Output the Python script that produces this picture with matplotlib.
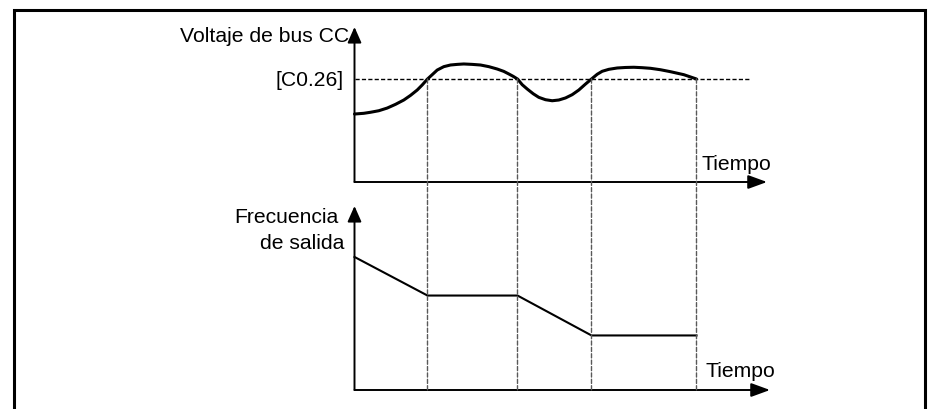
import matplotlib
matplotlib.use('Agg')
import matplotlib.pyplot as plt
from matplotlib.patches import Rectangle, ConnectionPatch

plt.rcParams['font.family'] = ['Liberation Sans', 'DejaVu Sans']

# data (time in arbitrary units, values normalised to the threshold)
t_volt = [0.0, 0.93, 1.6, 2.43, 3.27, 4.1, 4.93, 5.6, 6.27, 6.77, 7.3, 7.77, 8.27, 8.93,
          9.6, 10.27, 10.93, 11.77, 12.6, 13.43, 14.27, 14.93, 15.43, 15.87, 16.3,
          16.77, 17.27, 17.87, 18.43, 19.1, 19.77, 20.43, 21.1, 21.77, 22.43, 23.1, 23.7,
          24.27, 24.77, 25.43, 26.27, 27.1, 27.93, 28.77, 29.6, 30.6, 31.6, 32.93, 34.2]
v_bus = [0.660, 0.667, 0.677, 0.692, 0.718, 0.754, 0.796, 0.841, 0.893, 0.942, 1.0,
         1.042, 1.087, 1.120, 1.136, 1.142, 1.146, 1.142, 1.136, 1.120, 1.097, 1.074,
         1.049, 1.026, 1.0,
         0.945, 0.903, 0.857, 0.822, 0.799, 0.789, 0.796, 0.816, 0.848, 0.893, 0.951, 1.0,
         1.046, 1.075, 1.094, 1.107, 1.112, 1.114, 1.110, 1.104, 1.090, 1.071, 1.042, 1.0]
threshold = 1.0
threshold_end = 39.6
t_freq = [0.0, 7.3, 16.3, 23.7, 34.2]
f_out = [1.0, 0.71, 0.71, 0.41, 0.41]
t_marks = [7.3, 16.3, 23.7, 34.2]

label_volt = 'Voltaje de bus CC'
label_thr = '[C0.26]'
label_freq = ['Frecuencia', 'de salida']
label_time = 'Tiempo'

W, H = 933, 410
FS = 15.2


def fx(px):
    return px / W


def fy(py):
    return 1 - py / H


fig = plt.figure(figsize=(W / 100, H / 100), dpi=100)

# outer frame
fig.patches.append(Rectangle((fx(14), fy(430)), fx(925) - fx(14), fy(11) - fy(430),
                             transform=fig.transFigure, fill=False, lw=2.2,
                             edgecolor='black', clip_on=False))

ax_top = fig.add_axes([fx(354.5), fy(183), fx(767) - fx(354.5), fy(28) - fy(183)])
ax_bot = fig.add_axes([fx(354.5), fy(391), fx(770) - fx(354.5), fy(207) - fy(391)])
ax_top.set_xlim(0, 41.25)
ax_top.set_ylim(0, 1.505)
ax_bot.set_xlim(0, 41.55)
ax_bot.set_ylim(0, 1.383)

for ax in (ax_top, ax_bot):
    ax.set_axis_off()
    ax.patch.set_alpha(0)
    # axes with arrows
    ax.annotate('', xy=(1, 0), xytext=(0, 0), xycoords='axes fraction',
                arrowprops=dict(arrowstyle='-|>,head_length=1.15,head_width=0.42',
                                lw=1.4, color='black', shrinkA=0, shrinkB=0))
    ax.annotate('', xy=(0, 1), xytext=(0, 0), xycoords='axes fraction',
                arrowprops=dict(arrowstyle='-|>,head_length=0.95,head_width=0.42',
                                lw=1.4, color='black', shrinkA=0, shrinkB=0))

# DC bus voltage
ax_top.plot([0, threshold_end], [threshold, threshold], color='black', lw=1.0,
            linestyle=(0, (3, 1.6)))
ax_top.plot(t_volt, v_bus, color='black', lw=2.2, solid_capstyle='round',
            solid_joinstyle='round', clip_on=False)
ax_top.annotate(label_thr, xy=(0, threshold), xytext=(-8, 0), textcoords='offset points',
                ha='right', va='center', fontsize=FS)

# output frequency
ax_bot.plot(t_freq, f_out, color='black', lw=1.5, clip_on=False)

# vertical dashed guides
for t in t_marks:
    con = ConnectionPatch(xyA=(t, threshold), coordsA=ax_top.transData,
                          xyB=(t, 0), coordsB=ax_bot.transData,
                          color='0.35', lw=1.0, linestyle=(0, (3, 1.6)))
    fig.add_artist(con)

# labels
fig.text(fx(349), fy(36), label_volt, ha='right', va='center', fontsize=FS)
fig.text(fx(701), fy(165), label_time, ha='left', va='center', fontsize=FS)
fig.text(fx(706), fy(372), label_time, ha='left', va='center', fontsize=FS)
fig.text(fx(339), fy(218), label_freq[0], ha='right', va='center', fontsize=FS)
fig.text(fx(344), fy(244), label_freq[1], ha='right', va='center', fontsize=FS)

fig.savefig('out.png', dpi=100)
